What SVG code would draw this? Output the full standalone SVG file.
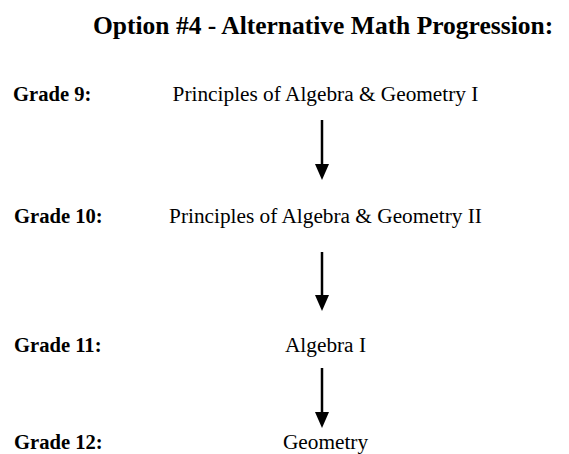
<svg xmlns="http://www.w3.org/2000/svg" width="569" height="454" viewBox="0 0 569 454">
<style>
.t{font-family:"Liberation Serif","Times New Roman",serif;fill:#000}
.title{font-size:25.5px;font-weight:bold}
.g{font-size:20.6px;font-weight:bold}
.c{font-size:21.3px;text-anchor:middle}
.ln{stroke:#000;stroke-width:2.5;fill:none}
</style>
<rect width="569" height="454" fill="#fff"/>
<text class="t title" x="93" y="34">Option #4 - Alternative Math Progression:</text>
<g id="grade9"><text class="t g" x="13" y="101">Grade 9:</text><text class="t c" x="325.5" y="101">Principles of Algebra &amp; Geometry I</text></g>
<g id="grade10"><text class="t g" x="14" y="223">Grade 10:</text><text class="t c" x="325.5" y="223">Principles of Algebra &amp; Geometry II</text></g>
<g id="grade11"><text class="t g" x="14" y="352">Grade 11:</text><text class="t c" x="325.5" y="352">Algebra I</text></g>
<g id="grade12"><text class="t g" x="14" y="449">Grade 12:</text><text class="t c" x="325.5" y="449">Geometry</text></g>
<g id="connectors">
<line class="ln" x1="322" y1="120" x2="322" y2="166"/><path d="M315,164 L329,164 L322,180 Z"/>
<line class="ln" x1="322" y1="252" x2="322" y2="297"/><path d="M315,295 L329,295 L322,311 Z"/>
<line class="ln" x1="322" y1="368" x2="322" y2="414"/><path d="M315,412 L329,412 L322,428 Z"/>
</g>
</svg>
